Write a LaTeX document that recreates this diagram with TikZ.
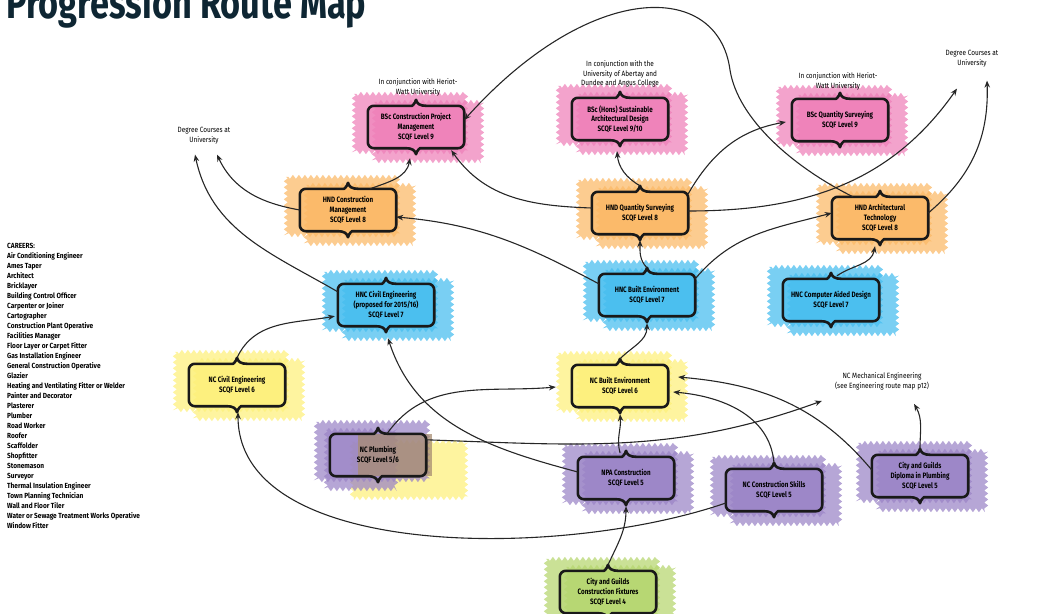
\documentclass[tikz,border=0pt]{standalone}
\usepackage{fontspec}
\usetikzlibrary{arrows.meta,calc,backgrounds,decorations.pathmorphing}
\newfontfamily\handfont{Fira Sans}[FakeStretch=0.8]
\newfontfamily\notefont{Fira Sans}[FakeStretch=0.85]
\newfontfamily\careerfont{Fira Sans}[FakeStretch=0.88]
\newfontfamily\titlefont{Fira Sans}[FakeStretch=0.78]
\definecolor{titleblue}{HTML}{0E2633}
\definecolor{hlpink}{HTML}{EE7FB8}
\definecolor{hlorange}{HTML}{FBB865}
\definecolor{hlblue}{HTML}{45BDEF}
\definecolor{hlyellow}{HTML}{FDF07A}
\definecolor{hlpurple}{HTML}{9A83C6}
\definecolor{hlgreen}{HTML}{B5D66E}
\definecolor{hlbrown}{HTML}{A78C72}
\begin{document}
\begin{tikzpicture}[x=1pt,y=1pt]
\tikzset{course/.style={align=center, font=\handfont\bfseries\fontsize{7.8}{9.6}\selectfont, minimum width=96pt, minimum height=42pt, inner sep=2pt},
  note/.style={align=center, font=\notefont\fontsize{7.6}{9.8}\selectfont, inner sep=1pt},
  boxline/.style={line width=2.6pt, line join=round, black!90},
  marker/.style={opacity=0.72, decorate, decoration={zigzag, segment length=6pt, amplitude=2pt}},
  link/.style={line width=1.1pt, black!85, -{Stealth[length=7pt,width=5.5pt]}}}
\useasboundingbox (0,0) rectangle (1049,-613);
\clip (0,0) rectangle (1049,-613);
\node[anchor=base west, inner sep=0, text=titleblue, font=\titlefont\bfseries\fontsize{44}{44}\selectfont] (TTL) at (6,-18) {Progression Route Map};
\node[anchor=north west, align=left, inner sep=0, font=\careerfont\bfseries\fontsize{7.4}{10}\selectfont] (CAR) at (7,-243) {CAREERS:\\Air Conditioning Engineer\\Ames Taper\\Architect\\Bricklayer\\Building Control Officer\\Carpenter or Joiner\\Cartographer\\Construction Plant Operative\\Facilities Manager\\Floor Layer or Carpet Fitter\\Gas Installation Engineer\\General Construction Operative\\Glazier\\Heating and Ventilating Fitter or Welder\\Painter and Decorator\\Plasterer\\Plumber\\Road Worker\\Roofer\\Scaffolder\\Shopfitter\\Stonemason\\Surveyor\\Thermal Insulation Engineer\\Town Planning Technician\\Wall and Floor Tiler\\Water or Sewage Treatment Works Operative\\Window Fitter};
\node[note] (nBCPM) at (418,-87) {In conjunction with Heriot-\\Watt University};
\node[note] (nBSAD) at (620,-74) {In conjunction with the\\University of Abertay and\\Dundee and Angus College};
\node[note] (nBQS) at (838,-81) {In conjunction with Heriot-\\Watt University};
\node[note] (DegL) at (204,-136) {Degree Courses at\\University};
\node[note] (DegR) at (972,-59) {Degree Courses at\\University};
\node[note] (NME) at (882,-381) {NC Mechanical Engineering\\(see Engineering route map p12)};
\node[course] (BCPM) at (416,-127) {BSc Construction Project\\Management\\SCQF Level 9};
\node[course] (BSAD) at (620,-119) {BSc (Hons) Sustainable\\Architectural Design\\SCQF Level 9/10};
\node[course] (BQS) at (840,-120) {BSc Quantity Surveying\\SCQF Level 9};
\node[course] (HCM) at (348,-210) {HND Construction\\Management\\SCQF Level 8};
\node[course] (HQS) at (640,-213) {HND Quantity Surveying\\SCQF Level 8};
\node[course] (HAT) at (880,-218) {HND Architectural\\Technology\\SCQF Level 8};
\node[course] (HCE) at (386,-305) {HNC Civil Engineering\\(proposed for 2015/16)\\SCQF Level 7};
\node[course] (HBE) at (647,-295) {HNC Built Environment\\SCQF Level 7};
\node[course] (HCAD) at (831,-300) {HNC Computer Aided Design\\SCQF Level 7};
\node[course] (NCE) at (237,-385) {NC Civil Engineering\\SCQF Level 6};
\node[course] (NBE) at (620,-386) {NC Built Environment\\SCQF Level 6};
\node[course] (NPL) at (378,-455) {NC Plumbing\\SCQF Level 5/6};
\node[course] (NPA) at (626,-478) {NPA Construction\\SCQF Level 5};
\node[course] (NCS) at (774,-490) {NC Construction Skills\\SCQF Level 5};
\node[course] (CGD) at (920,-476) {City and Guilds\\Diploma in Plumbing\\SCQF Level 5};
\node[course] (CGF) at (608,-592) {City and Guilds\\Construction Fixtures\\SCQF Level 4};
\begin{scope}[on background layer]
\foreach \n/\c in {BCPM/hlpink, BSAD/hlpink, BQS/hlpink, HCM/hlorange, HQS/hlorange, HAT/hlorange, HCE/hlblue, HBE/hlblue, HCAD/hlblue, NCE/hlyellow, NBE/hlyellow, NPA/hlpurple, NCS/hlpurple, CGD/hlpurple, CGF/hlgreen} {
  \fill[\c, opacity=0.6] (\n.north west) rectangle (\n.south east);
  \fill[\c, marker] ([shift={(-14pt,12pt)}]\n.north west) rectangle ([shift={(2pt,-4pt)}]\n.south east);
  \fill[\c, marker] ([shift={(6pt,4pt)}]\n.north west) rectangle ([shift={(18pt,-13pt)}]\n.south east);
}
\fill[hlyellow, marker] ([shift={(22pt,-8pt)}]NPL.north west) rectangle ([shift={(40pt,-22pt)}]NPL.south east);
\fill[hlpurple, marker] ([shift={(-14pt,12pt)}]NPL.north west) rectangle ([shift={(2pt,-4pt)}]NPL.south east);
\fill[hlpurple, marker] ([shift={(-4pt,4pt)}]NPL.north west) rectangle ([shift={(-30pt,-13pt)}]NPL.south east);
\fill[hlbrown, opacity=0.75] ([xshift=28pt]NPL.north west) rectangle ([xshift=6pt]NPL.south east);
\end{scope}
\foreach \n in {BCPM, BSAD, BQS, HCM, HQS, HAT, HCE, HBE, HCAD, NCE, NBE, NPL, NPA, NCS, CGD, CGF} {
  \draw[boxline] ($(\n.north)+(-10,0)$) .. controls +(6,0) and +(-1,-4) .. ($(\n.north)+(0,6)$) .. controls +(1,-4) and +(-6,0) .. ($(\n.north)+(10,0)$)
    [rounded corners=6pt] -- (\n.north east) -- (\n.south east) -- ($(\n.south)+(10,0)$)
    [sharp corners] .. controls +(-6,0) and +(1,4) .. ($(\n.south)+(0,-6)$) .. controls +(-1,4) and +(6,0) .. ($(\n.south)+(-10,0)$)
    [rounded corners=6pt] -- (\n.south west) -- (\n.north west) -- cycle;
}
\draw[link] ([yshift=-8pt]HCE.north west) to[out=150,in=-78] ([xshift=-9pt,yshift=-9pt]DegL.south);
\draw[link] (HCM.west) to[out=170,in=-65] ([xshift=13pt,yshift=-9pt]DegL.south);
\draw[link] ([xshift=22pt]HCM.north) to[out=20,in=-100] ([xshift=-6pt,yshift=-10pt]BCPM.south);
\draw[link] ([yshift=5pt]HQS.west) to[out=178,in=-55] ([shift={(-13pt,-2pt)}]BCPM.south east);
\draw[link] ([yshift=6pt]HQS.north) to[out=150,in=-85] ([xshift=-3pt,yshift=-11pt]BSAD.south);
\draw[link] ([yshift=-2pt]HQS.north east) to[out=60,in=190] ([shift={(-6pt,-2pt)}]BQS.west);
\draw[link] ([yshift=2pt]HQS.east) to[out=0,in=-125] ([xshift=-15pt,yshift=-20pt]DegR.south);
\draw[link] ([yshift=5pt]HAT.east) to[out=40,in=-88] ([xshift=15pt,yshift=-12pt]DegR.south);
\draw[link] ([xshift=-27pt]HAT.north) .. controls (795,-168) and (738,-120) .. (730,-70) .. controls (718,20) and (590,20) .. ([yshift=7pt]BCPM.east);
\draw[link] ([yshift=6pt]HBE.north) to[out=135,in=-90] ([yshift=-6pt]HQS.south);
\draw[link] ([yshift=-5pt]HBE.north east) to[out=50,in=195] ([yshift=5pt]HAT.west);
\draw[link] ([yshift=-10pt]HBE.north west) to[out=152,in=-5] ([yshift=-7pt]HCM.east);
\draw[link] ([xshift=6pt,yshift=3pt]HCAD.north) to[out=35,in=-100] ([xshift=-5pt,yshift=-7pt]HAT.south);
\draw[link] ([yshift=6pt]NBE.north) to[out=45,in=-90] ([yshift=-7pt]HBE.south);
\draw[link] ([yshift=6pt]NCE.north) to[out=65,in=190] ([shift={(-3pt,10pt)}]HCE.south west);
\draw[link] ([yshift=6pt]NPA.west) to[out=165,in=-72] ([xshift=2pt,yshift=-12pt]HCE.south);
\draw[link] ([xshift=-6pt,yshift=4pt]NPA.north) to[out=105,in=-85] ([yshift=-7pt]NBE.south);
\draw[link] ([xshift=9pt]NPL.north) to[out=55,in=185] ([shift={(-16pt,-1pt)}]NBE.west);
\draw[link] ([yshift=-6pt]NPL.north east) to[out=-2,in=200] ([shift={(-12pt,-10pt)}]NME.south west);
\draw[link] ([yshift=6pt]CGD.north) to[out=90,in=-60] ([shift={(-16pt,-13pt)}]NME.south east);
\draw[link] ([yshift=6pt]CGD.west) to[out=130,in=-5] ([shift={(10pt,9pt)}]NBE.east);
\draw[link] ([yshift=6pt]NCS.north) to[out=95,in=-5] ([shift={(5pt,-6pt)}]NBE.east);
\draw[link] ([yshift=-13pt]NCS.west) .. controls (560,-560) and (238,-560) .. ([xshift=1pt,yshift=-6pt]NCE.south);
\draw[link] ([yshift=6pt]CGF.north) to[out=65,in=-90] ([yshift=-7pt]NPA.south);
\end{tikzpicture}
\end{document}
